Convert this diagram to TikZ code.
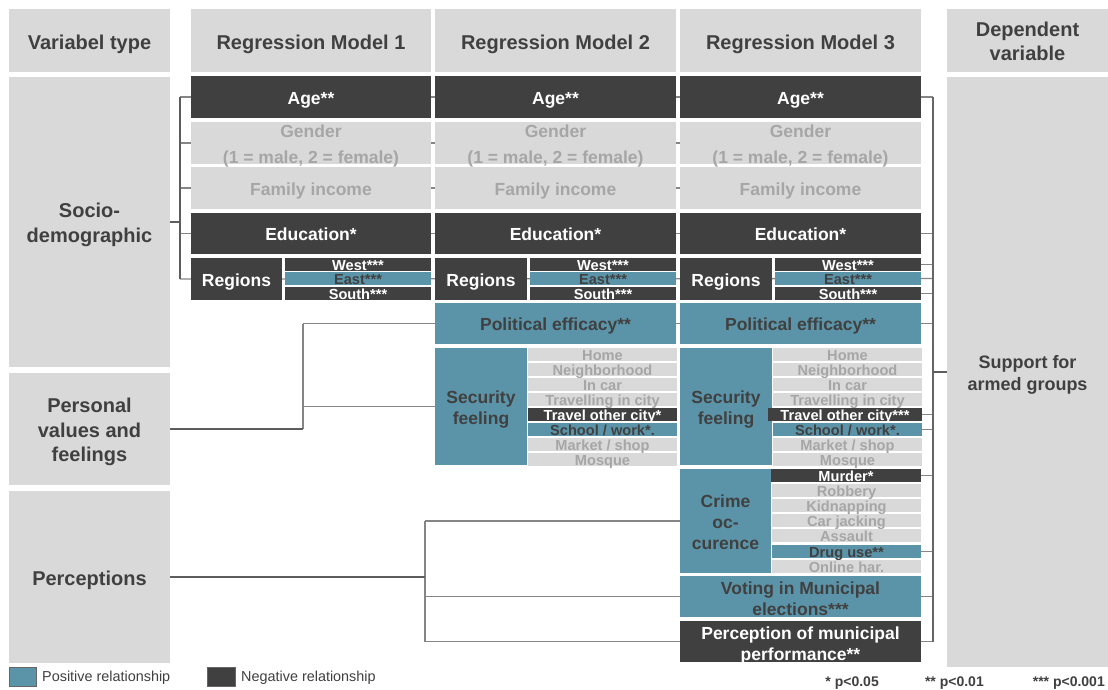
\documentclass[tikz,border=0pt]{standalone}
\usepackage{fontspec}
\setmainfont{Liberation Sans}
\usetikzlibrary{backgrounds}
\definecolor{dk}{HTML}{404040}
\definecolor{bl}{HTML}{5B94A8}
\definecolor{lg}{HTML}{D9D9D9}
\definecolor{gt}{HTML}{A6A6A6}
\definecolor{ln}{HTML}{858585}
\newcommand\bx[7]{%
  \pgfmathsetmacro\bxw{#5-#3}\pgfmathsetmacro\bxh{#6-#4}%
  \node[#2, anchor=north west, minimum width=\bxw pt, minimum height=\bxh pt,
        inner sep=0pt, outer sep=0pt, align=center] (#1) at (#3,#4) {#7};}
\newcommand\tstrut[1]{\rule{0pt}{#1pt}}
\newcommand\nodp[1]{\raisebox{0pt}[\height][0pt]{#1}}
\tikzset{
  hdr/.style={fill=lg, text=dk, font=\bfseries\fontsize{20}{24}\selectfont},
  hone/.style={text height=17.3pt, text depth=0pt},
  cat/.style={fill=lg, text=dk, font=\bfseries\fontsize{20}{24.5}\selectfont},
  cone/.style={text height=16.3pt, text depth=0pt},
  depbox/.style={fill=lg, text=dk, font=\bfseries\fontsize{18}{22}\selectfont},
  big/.style={font=\bfseries\fontsize{17.5}{21}\selectfont},
  one/.style={text height=14.5pt, text depth=0pt},
  dkb/.style={big, fill=dk, text=white},
  blb/.style={big, fill=bl, text=dk},
  ngb/.style={big, fill=lg, text=gt},
  small/.style={font=\bfseries\fontsize{14.6}{14}\selectfont, text height=11.4pt, text depth=0pt},
  dks/.style={small, fill=dk, text=white},
  bls/.style={small, fill=bl, text=dk},
  ngs/.style={small, fill=lg, text=gt},
  br/.style={draw=ln, line width=1.3pt},
  stem/.style={draw=dk!85, line width=1.5pt},
  legbox/.style={draw=dk!80, line width=0.6pt},
  legtxt/.style={text=dk, font=\fontsize{14.4}{16}\selectfont, anchor=west, inner sep=0pt},
  foot/.style={text=dk, font=\bfseries\fontsize{14}{16}\selectfont, anchor=east, inner sep=0pt}
}
\begin{document}
\begin{tikzpicture}[x=1pt, y=-1pt]
\useasboundingbox (0,0) rectangle (1108,690);
% headers
\bx{hvt}{hdr, hone}{9}{9}{170}{72}{Variabel type}
\bx{hm1}{hdr, hone}{191}{9}{431}{72}{Regression Model 1}
\bx{hm2}{hdr, hone}{435}{9}{676}{72}{Regression Model 2}
\bx{hm3}{hdr, hone}{680}{9}{921}{72}{Regression Model 3}
\bx{hdv}{hdr}{947}{9}{1108}{72}{\tstrut{16.6}Dependent\\variable}
% categories
\bx{soc}{cat}{9}{77}{170}{367}{\tstrut{20.6}Socio-\\demographic}
\bx{pers}{cat}{9}{373}{170}{485}{\tstrut{20.6}Personal\\values and\\feelings}
\bx{perc}{cat, cone}{9}{491}{170}{663}{Perceptions}
\bx{dep}{depbox}{947}{77}{1108}{667}{\tstrut{19.3}Support for\\armed groups}
% model 1
\bx{age1}{dkb, one}{191}{76}{431}{118}{Age**}
\bx{gen1}{ngb}{191}{122}{431}{164}{\tstrut{16}Gender\\[5pt]\nodp{(1 = male, 2 = female)}}
\bx{inc1}{ngb, one}{191}{167}{431}{209}{Family income}
\bx{edu1}{dkb, one}{191}{213}{431}{254}{Education*}
\bx{reg1}{dkb, one}{191}{258}{282}{300}{Regions}
\bx{wst1}{dks}{285}{258}{431}{271}{West***}
\bx{est1}{bls}{285}{272}{431}{285}{East***}
\bx{sth1}{dks}{285}{287}{431}{300}{South***}
% model 2
\bx{age2}{dkb, one}{435}{76}{676}{118}{Age**}
\bx{gen2}{ngb}{435}{122}{676}{164}{\tstrut{16}Gender\\[5pt]\nodp{(1 = male, 2 = female)}}
\bx{inc2}{ngb, one}{435}{167}{676}{209}{Family income}
\bx{edu2}{dkb, one}{435}{213}{676}{254}{Education*}
\bx{reg2}{dkb, one}{435}{258}{527}{300}{Regions}
\bx{wst2}{dks}{530}{258}{676}{271}{West***}
\bx{est2}{bls}{530}{272}{676}{285}{East***}
\bx{sth2}{dks}{530}{287}{676}{300}{South***}
\bx{pol2}{blb, one}{435}{303}{676}{344}{Political efficacy**}
\bx{sec2}{blb}{435}{348}{527}{465}{\tstrut{18.8}Security\\feeling}
\bx{hom2}{ngs}{528}{348}{677}{361}{Home}
\bx{nbh2}{ngs}{528}{363}{677}{376}{Neighborhood}
\bx{car2}{ngs}{528}{378}{677}{391}{In car}
\bx{tic2}{ngs}{528}{393}{677}{406}{Travelling in city}
\bx{toc2}{dks}{528}{408}{677}{421}{Travel other city*}
\bx{sch2}{bls}{528}{423}{677}{436}{School / work*.}
\bx{mkt2}{ngs}{528}{438}{677}{451}{Market / shop}
\bx{msq2}{ngs}{528}{453}{677}{466}{Mosque}
% model 3
\bx{age3}{dkb, one}{680}{76}{921}{118}{Age**}
\bx{gen3}{ngb}{680}{122}{921}{164}{\tstrut{16}Gender\\[5pt]\nodp{(1 = male, 2 = female)}}
\bx{inc3}{ngb, one}{680}{167}{921}{209}{Family income}
\bx{edu3}{dkb, one}{680}{213}{921}{254}{Education*}
\bx{reg3}{dkb, one}{680}{258}{772}{300}{Regions}
\bx{wst3}{dks}{775}{258}{921}{271}{West***}
\bx{est3}{bls}{775}{272}{921}{285}{East***}
\bx{sth3}{dks}{775}{287}{921}{300}{South***}
\bx{pol3}{blb, one}{680}{303}{921}{344}{Political efficacy**}
\bx{sec3}{blb}{680}{348}{772}{465}{\tstrut{18.8}Security\\feeling}
\bx{hom3}{ngs}{773}{348}{922}{361}{Home}
\bx{nbh3}{ngs}{773}{363}{922}{376}{Neighborhood}
\bx{car3}{ngs}{773}{378}{922}{391}{In car}
\bx{tic3}{ngs}{773}{393}{922}{406}{Travelling in city}
\bx{toc3}{dks}{768}{408}{922}{421}{Travel other city***}
\bx{sch3}{bls}{773}{423}{922}{436}{School / work*.}
\bx{mkt3}{ngs}{773}{438}{922}{451}{Market / shop}
\bx{msq3}{ngs}{773}{453}{922}{466}{Mosque}
\bx{cri}{blb}{680}{469}{771}{573}{\tstrut{14.8}Crime\\oc-\\curence}
\bx{mur}{dks}{771}{469}{921}{482}{Murder*}
\bx{rob}{ngs}{772}{484}{921}{497}{Robbery}
\bx{kid}{ngs}{772}{499}{921}{512}{Kidnapping}
\bx{cjk}{ngs}{772}{514}{921}{527}{Car jacking}
\bx{asl}{ngs}{772}{529}{921}{542}{Assault}
\bx{drg}{bls}{772}{545}{921}{558}{Drug use**}
\bx{onl}{ngs}{772}{560}{921}{573}{Online har.}
\bx{vot}{blb}{680}{576}{921}{617}{\tstrut{16.8}Voting in Municipal\\elections***}
\bx{pmp}{dkb}{680}{621}{921}{662}{\tstrut{16.5}Perception of municipal\\\nodp{performance**}}
% legend
\bx{lgp}{legbox, fill=bl}{9}{667}{36}{686}{}
\node[legtxt] (lgpt) at (42,678) {Positive relationship};
\bx{lgn}{legbox, fill=dk}{207}{667}{235}{686}{}
\node[legtxt] (lgnt) at (241,678) {Negative relationship};
\node[foot] (f1) at (879,683) {* p<0.05};
\node[foot] (f2) at (984,683) {** p<0.01};
\node[foot] (f3) at (1105,683) {*** p<0.001};
% connectors
\coordinate (sb) at (180,0);
\coordinate (pb) at (303,0);
\coordinate (qb) at (425,0);
\coordinate (rb) at (933,0);
\begin{pgfonlayer}{background}
\fill[white] (0,0) rectangle (1108,690);
% socio-demographic
\draw[br] (sb |- age1.west) -- (age3.east) -- (rb |- age3.east);
\draw[br] (sb |- gen1.west) -- (gen3.east);
\draw[br] (sb |- inc1.west) -- (inc3.east);
\draw[br] (sb |- edu1.west) -- (edu3.east) -- (rb |- edu3.east);
\draw[br] (sb |- reg1.west) -- (est3.east) -- (rb |- est3.east);
\draw[br] (wst3.east) -- (rb |- wst3.east);
\draw[br] (sth3.east) -- (rb |- sth3.east);
\draw[stem] (sb |- age1.west) -- (sb |- reg1.west);
\draw[stem] (soc.east) -- (sb |- soc.east);
% personal values
\draw[br] (pb |- pol2.west) -- (pol3.east) -- (rb |- pol3.east);
\draw[br] (pb |- sec2.west) -- (sec2.west);
\draw[br] (pb |- pol2.west) -- (pb |- pers.east);
\draw[stem] (pers.east) -- (pb |- pers.east);
\draw[br] (toc3.east) -- (rb |- toc3.east);
\draw[br] (sch3.east) -- (rb |- sch3.east);
% perceptions
\draw[br] (qb |- cri.west) -- (qb |- pmp.west);
\draw[br] (qb |- cri.west) -- (cri.west);
\draw[br] (qb |- vot.west) -- (vot.east) -- (rb |- vot.east);
\draw[br] (qb |- pmp.west) -- (pmp.east) -- (rb |- pmp.east);
\draw[stem] (perc.east) -- (qb |- perc.east);
\draw[br] (mur.east) -- (rb |- mur.east);
\draw[br] (drg.east) -- (rb |- drg.east);
% right bracket
\draw[stem, draw=dk!80] (rb |- age3.east) -- (rb |- pmp.east);
\draw[stem] (rb |- dep.west) -- (dep.west);
\end{pgfonlayer}
\end{tikzpicture}
\end{document}
